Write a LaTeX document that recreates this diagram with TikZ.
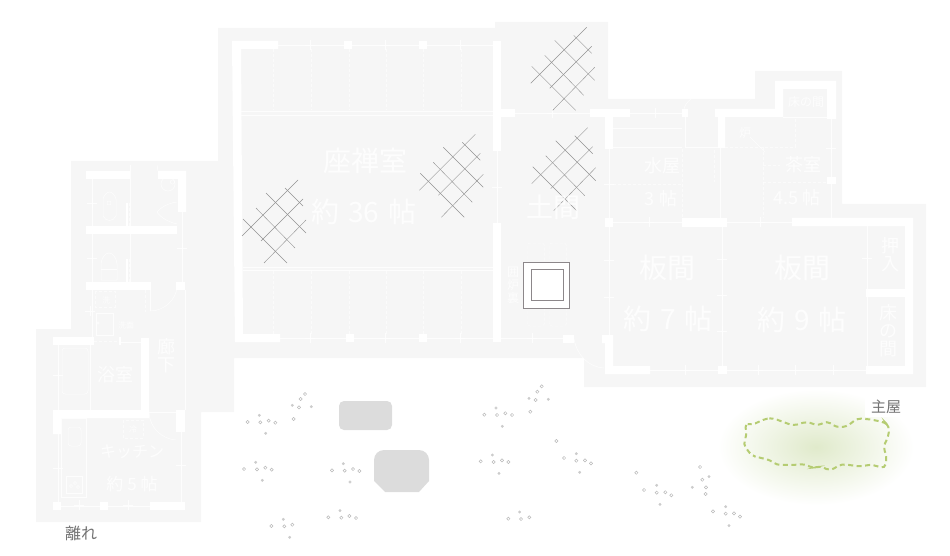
\documentclass[tikz,border=0pt]{standalone}
\usepackage{xcolor}
\usepackage{fontspec}
\setmainfont{Noto Sans CJK JP}
\usetikzlibrary{shadings}

\definecolor{planbg}{HTML}{F6F6F6}
\definecolor{rockgray}{HTML}{DCDCDC}
\definecolor{mossgreen}{HTML}{B5CC72}
\definecolor{mossglow}{HTML}{E0EACB}
\definecolor{irorigray}{HTML}{8C878A}

\tikzset{
    wall/.style={fill=white, draw=none},
    thinline/.style={white, line width=0.5pt, opacity=0.8},
    dashline/.style={white, line width=0.5pt, densely dashed, opacity=0.6},
    roomlabel/.style={text=white, text opacity=0.8, inner sep=0pt, align=center},
    lattice/.style={gray!85, line width=0.4pt},
    pebble/.style={gray!55, line width=0.5pt, fill=white},
}

\begin{document}
\begin{tikzpicture}[x=1pt, y=-1pt]
    \useasboundingbox (0, 0) rectangle (950, 556);

    % moss glow
    \shade[inner color=mossglow, outer color=white] (816, 447) ellipse (98 and 58);

    % ground plan
    \fill[planbg] (218, 28) -- (495, 28) -- (495, 22) -- (608, 22) -- (608, 99) -- (755, 99)
        -- (755, 71) -- (842, 71) -- (842, 204) -- (926, 204) -- (926, 387) -- (584, 387)
        -- (584, 358) -- (234, 358) -- (234, 412) -- (201, 412) -- (201, 522) -- (36, 522)
        -- (36, 329) -- (71, 329) -- (71, 161) -- (218, 161) -- cycle;

    % main hall
    \fill[wall] (232, 41) -- (278, 41) -- (278, 49) -- (241, 49) -- (243, 334) -- (280, 334)
        -- (280, 342) -- (235, 342) -- cycle;
    \fill[wall] (493, 41) rectangle (501, 151);
    \fill[wall] (493, 223) rectangle (501, 342);
    \foreach \sx/\sy in {344/41, 419/41, 346/334, 419/334}
        \fill[wall] (\sx, \sy) rectangle +(8, 8);
    \fill[wall] (501, 109) rectangle (515, 117);
    \draw[thinline] (278, 45) -- (493, 45);
    \draw[thinline] (280, 338) -- (493, 338);
    \draw[thinline] (241, 111) -- (493, 111);
    \draw[thinline] (241, 115) -- (501, 115);
    \draw[thinline] (243, 267) -- (493, 267);
    \draw[thinline] (243, 270) -- (493, 270);
    \draw[thinline] (497, 151) -- (497, 223);
    \foreach \dx in {273, 311, 349, 386, 423, 461} {
        \draw[dashline] (\dx, 49) -- (\dx, 110);
        \draw[dashline] (\dx, 271) -- (\dx, 334);
    }
    \foreach \tx/\ty in {310/45, 385/45, 460/45, 310/338, 385/338, 460/338, 497/187, 552/113, 655/113,
        532/338, 609/184, 649/222, 760/222, 609/260, 609/297, 722/259, 722/295, 722/331, 685/370,
        758/370, 795/370, 833/370, 867/258, 831/148, 79/505, 128/505, 92/203, 92/258, 90/311,
        58/375, 58/468, 181/465, 182/248}
        \draw[thinline] (\tx - 5, \ty) -- (\tx + 5, \ty) (\tx, \ty - 5) -- (\tx, \ty + 5);

    % doma and east rooms
    \fill[wall] (590, 109) rectangle (630, 117);
    \fill[wall] (605, 117) rectangle (613, 149);
    \fill[wall] (682, 109) rectangle (688, 117);
    \fill[wall] (715, 109) -- (775, 109) -- (775, 81) -- (836, 81) -- (836, 119) -- (827, 119)
        -- (827, 89) -- (783, 89) -- (783, 117) -- (725, 117) -- (725, 148) -- (718, 148) -- (718, 117)
        -- (715, 117) -- cycle;
    \fill[wall] (827, 177) rectangle (836, 184);
    \fill[wall] (605, 218) rectangle (613, 227);
    \fill[wall] (682, 218) rectangle (727, 227);
    \fill[wall] (792, 218) -- (913, 218) -- (913, 374) -- (866, 374) -- (866, 366) -- (905, 366)
        -- (905, 226) -- (792, 226) -- cycle;
    \fill[wall] (866, 289) rectangle (905, 297);
    \fill[wall] (602, 335) -- (613, 335) -- (613, 366) -- (650, 366) -- (650, 374) -- (605, 374)
        -- (605, 343) -- (602, 343) -- cycle;
    \fill[wall] (718, 366) rectangle (727, 374);
    \fill[wall] (563, 335) rectangle (574, 343);
    \draw[thinline] (515, 113) -- (590, 113);
    \draw[thinline] (630, 113) -- (682, 113);
    \draw[thinline] (501, 338) -- (563, 338);
    \draw[thinline] (609, 149) -- (609, 218);
    \draw[thinline] (609, 227) -- (609, 335);
    \draw[thinline] (722, 227) -- (722, 366);
    \draw[thinline] (720, 148) -- (720, 218);
    \draw[thinline] (867, 226) -- (867, 366);
    \draw[thinline] (831, 119) -- (831, 218);
    \draw[thinline] (613, 222) -- (682, 222);
    \draw[thinline] (727, 222) -- (792, 222);
    \draw[thinline] (650, 370) -- (718, 370);
    \draw[thinline] (727, 370) -- (866, 370);
    \draw[thinline] (613, 128) -- (682, 128);
    \draw[thinline] (613, 147) -- (682, 147);
    \draw[thinline] (685, 117) -- (685, 147) -- (720, 147);
    \draw[thinline] (684, 109) .. controls (685, 105) and (687, 102) .. (691, 99);
    \draw[thinline] (574, 339) .. controls (577, 355) and (588, 367) .. (604, 368);
    \draw[dashline] (613, 184) -- (682, 184);
    \draw[dashline] (682, 149) -- (682, 218);
    \draw[dashline] (714, 150) -- (714, 182);
    \draw[dashline] (725, 147) -- (795, 147) -- (795, 117);
    \draw[dashline] (763, 147) -- (763, 218);
    \draw[dashline] (763, 182) -- (827, 182);
    \draw[dashline] (763, 165) -- (780, 165);
    \draw[thinline] (783, 117) -- (827, 117);
    \draw[thinline] (750, 137) -- (765, 152);

    % annexe
    \fill[wall] (86, 171) rectangle (130, 179);
    \fill[wall] (158, 171) -- (186, 171) -- (186, 212) -- (178, 212) -- (178, 179) -- (158, 179) -- cycle;
    \fill[wall] (86, 226) rectangle (177, 234);
    \fill[wall] (86, 282) rectangle (151, 290);
    \fill[wall] (176, 282) rectangle (185, 290);
    \fill[wall] (53, 337) rectangle (94, 345);
    \fill[wall] (141, 338) rectangle (149, 410);
    \fill[wall] (53, 410) -- (149, 410) -- (149, 418) -- (61, 418) -- (61, 434) -- (53, 434) -- cycle;
    \fill[wall] (176, 410) rectangle (185, 432);
    \fill[wall] (53, 502) rectangle (61, 510);
    \fill[wall] (100, 502) rectangle (108, 510);
    \fill[wall] (150, 502) rectangle (185, 510);
    \fill[wall] (125.5, 203) rectangle (128, 226);
    \fill[wall] (125.5, 259) rectangle (128, 282);
    \fill[wall] (119, 337) rectangle (121, 345);
    \draw[thinline] (92, 179) -- (92, 226);
    \draw[thinline] (92, 234) -- (92, 282);
    \draw[thinline] (130, 165) -- (130, 282);
    \draw[thinline] (182, 212) -- (182, 282);
    \draw[thinline] (185, 290) -- (185, 410);
    \draw[thinline] (181, 432) -- (181, 502);
    \draw[thinline] (92, 290) -- (92, 337);
    \draw[thinline] (150, 290) -- (150, 311);
    \draw[thinline] (150, 311) .. controls (164, 311) and (176, 300) .. (177, 287);
    \draw[thinline] (121, 342) -- (141, 342);
    \draw[thinline] (58, 345) -- (58, 410);
    \draw[thinline] (90, 345) -- (90, 410);
    \draw[thinline] (58, 434) -- (58, 502);
    \draw[thinline] (61, 506) -- (100, 506);
    \draw[thinline] (108, 506) -- (150, 506);
    \draw[thinline] (149, 412) -- (176, 412);
    \draw[thinline] (149, 413) .. controls (150, 428) and (162, 439) .. (176, 440);
    \draw[thinline] (157, 165) -- (158, 171);
    \draw[dashline] (129, 203) -- (129, 226);
    \draw[dashline] (129, 259) -- (129, 282);
    \draw[dashline] (145, 290) -- (145, 312);
    \draw[dashline] (94, 341) -- (119, 341);
    \draw[dashline] (95, 291) rectangle (115, 307);
    \draw[dashline] (123, 420) rectangle (143, 438);
    \draw[thinline] (96, 313) rectangle (113, 335);
    \draw[thinline, rounded corners=3pt] (62, 348) rectangle (88, 394);
    \draw[thinline] (61, 418) rectangle (86, 497);
    \draw[thinline, rounded corners=3pt] (68, 427) rectangle (81, 446);
    \draw[thinline] (66, 476) rectangle (82, 493);
    \draw[thinline] (103, 216) -- (103, 199) .. controls (104, 195) and (107, 192) .. (109.5, 192)
        .. controls (112, 192) and (115, 195) .. (116, 199) -- (116, 216) .. controls (113, 222) and (106, 222) .. (103, 216);
    \draw[thinline] (101, 280) -- (101, 264) .. controls (102, 256) and (106, 253) .. (109, 253)
        .. controls (112, 253) and (116, 256) .. (117, 264) -- (117, 280) -- cycle;
    \draw[thinline] (101, 269) -- (117, 269);
    \draw[thinline] (168, 184) circle (7);
    \draw[thinline] (172.5, 182) circle (2.2);
    \draw[thinline] (177, 202) .. controls (168, 203) and (160, 208) .. (157, 212)
        .. controls (160, 217) and (168, 222) .. (177, 224);
    \draw[thinline] (109, 203) circle (2);
    \draw[thinline] (98, 323) circle (1.2);
    \foreach \cx/\cy in {71/486, 75/483, 78/487}
        \draw[thinline] (\cx, \cy) circle (1.6);

    % rocks
    \fill[rockgray, rounded corners=5pt] (339, 401) rectangle (392, 430);
    \fill[rockgray] (374, 481) -- (374, 460) arc[start angle=180, end angle=270, radius=10]
        -- (419, 450) arc[start angle=270, end angle=360, radius=10] -- (429, 481)
        -- (419, 492) -- (385, 492) -- cycle;

    % irori
    \foreach \fx/\fy in {527/243, 549/243}
        \draw[dashline, rounded corners=3pt] (\fx, \fy) rectangle +(17.5, 83);
    \draw[irorigray, fill=white, line width=0.7pt] (523, 262) rectangle (569, 308);
    \draw[irorigray, fill=white, line width=0.7pt] (531, 269) rectangle (563, 300);

    % lattices
    \foreach \ox/\oy in {530.7/27.3, 531.7/127.7, 419.3/134.3, 242/180} {
        \begin{scope}[shift={(\ox, \oy)}]
            \draw[lattice] (0, 56) -- (56, 0);
            \draw[lattice] (19, 61) -- (61, 19);
            \draw[lattice] (22, 83) -- (64, 40);
            \draw[lattice] (1, 39) -- (45, 83);
            \draw[lattice] (14, 28) -- (53, 68);
            \draw[lattice] (24, 13) -- (64, 53);
            \draw[lattice] (43, 8) -- (61, 26);
        \end{scope}
    }

    % pebbles
    \foreach \px/\py in {225/42, 212/57, 207/82, 191/117, 53/126, 91/127, 116/122, 136/128,
        42/267, 81/268, 106/263, 125/269, 306/271, 344/272, 369/267, 388/273,
        124/438, 163/439, 187/434, 295/412, 334/413, 358/408, 378/414,
        935/19, 922/35, 917/60, 901/95, 763/104, 801/105, 826/100, 846/105,
        979/183, 1002/234, 1039/242, 1065/241, 1083/250, 752/244, 791/246, 816/241, 835/246,
        835/416, 873/417, 898/412}
        \draw[pebble] (230 + \px/3, 380 + \py/3) circle (1.6);
    \foreach \px/\py in {187/76, 244/80, 88/106, 107/160, 77/247, 97/301, 340/251, 360/306,
        160/418, 179/472, 330/392, 897/55, 955/58, 798/84, 817/139, 1039/221, 1049/277,
        787/225, 807/280, 869/396}
        \draw[pebble, gray!40] (230 + \px/3, 380 + \py/3) circle (1.2);
    \foreach \px/\py in {49/263, 72/315, 110/323, 136/322, 154/331, 240/246, 247/284, 258/307,
        257/327, 279/379, 317/386, 342/385, 360/395}
        \draw[pebble] (620 + \px/3, 385 + \py/3) circle (1.6);
    \foreach \px/\py in {110/301, 120/358, 267/275, 217/307, 317/365, 327/422}
        \draw[pebble, gray!40] (620 + \px/3, 385 + \py/3) circle (1.2);

    % moss edge
    \begin{scope}[shift={(620, 385)}, x=0.3333pt, y=-0.3333pt]
        \draw[mossgreen, line width=2pt, dash pattern=on 5pt off 3.5pt, rounded corners=4pt]
            (375, 115) -- (395, 120) -- (440, 100) -- (460, 100) -- (520, 122) -- (560, 110)
            -- (595, 122) -- (620, 108) -- (650, 127) -- (680, 125) -- (712, 100) -- (750, 103)
            -- (795, 112) -- (808, 125) -- (805, 155) -- (790, 185) -- (800, 215) -- (795, 250)
            -- (750, 238) -- (725, 245) -- (665, 237) -- (630, 257) -- (600, 243) -- (578, 250)
            -- (555, 237) -- (520, 240) -- (470, 240) -- (450, 225) -- (415, 217) -- (395, 212)
            -- (370, 178) -- (380, 150) -- cycle;
    \end{scope}

    % labels
    \node[roomlabel, font=\fontsize{28}{28}\selectfont] (zazen) at (365, 161) {座禅室};
    \node[roomlabel, font=\fontsize{28}{28}\selectfont] (zazensize) at (364, 212) {約\hspace{3pt} 36\hspace{3pt} 帖};
    \node[roomlabel, font=\fontsize{27}{27}\selectfont] (doma) at (553, 207) {土間};
    \node[roomlabel, font=\fontsize{12}{13}\selectfont] (irori) at (513, 285) {囲\\炉\\裏};
    \node[roomlabel, font=\fontsize{18}{18}\selectfont] (mizuya) at (662, 166) {水屋};
    \node[roomlabel, font=\fontsize{18}{18}\selectfont] (mizuyasize) at (661, 199) {3 帖};
    \node[roomlabel, font=\fontsize{18}{18}\selectfont] (chashitsu) at (803, 165) {茶室};
    \node[roomlabel, font=\fontsize{18}{18}\selectfont] (chashitsusize) at (797, 198) {4.5 帖};
    \node[roomlabel, font=\fontsize{12}{12}\selectfont] (tokonoma) at (806, 102) {床の間};
    \node[roomlabel, font=\fontsize{12}{12}\selectfont] (ro) at (745, 133) {炉};
    \node[roomlabel, font=\fontsize{28}{28}\selectfont] (itama) at (667, 268) {板間};
    \node[roomlabel, font=\fontsize{28}{28}\selectfont] (itamasize) at (668, 319) {約\hspace{2pt} 7\hspace{2pt} 帖};
    \node[roomlabel, font=\fontsize{28}{28}\selectfont] (itamatwo) at (802, 268) {板間};
    \node[roomlabel, font=\fontsize{28}{28}\selectfont] (itamatwosize) at (802, 320) {約\hspace{2pt} 9\hspace{2pt} 帖};
    \node[roomlabel, font=\fontsize{18}{18}\selectfont] (oshiire) at (890, 255) {押\\入};
    \node[roomlabel, font=\fontsize{18}{18}\selectfont] (tokotwo) at (888, 331) {床\\の\\間};
    \node[roomlabel, font=\fontsize{18}{18}\selectfont] (roka) at (166, 356) {廊\\下};
    \node[roomlabel, font=\fontsize{18}{18}\selectfont] (yokushitsu) at (115, 375) {浴室};
    \node[roomlabel, font=\fontsize{16}{16}\selectfont] (kitchen) at (132, 452) {キッチン};
    \node[roomlabel, font=\fontsize{17}{17}\selectfont] (kitchensize) at (132, 484) {約 5 帖};
    \node[roomlabel, font=\fontsize{8}{8}\selectfont] (senmen) at (126, 325) {洗面};
    \node[roomlabel, font=\fontsize{8}{8}\selectfont] (sen) at (106, 300) {洗};
    \node[roomlabel, font=\fontsize{8}{8}\selectfont] (rei) at (133, 429) {冷};
    \node[inner sep=0pt, text=gray!90!black, font=\fontsize{16}{16}\selectfont] (hanare) at (81, 533) {離れ};
    \node[inner xsep=6pt, inner ysep=3pt, fill=white, text=gray!90!black, font=\fontsize{15}{15}\selectfont] (omoya) at (886, 407) {主屋};
\end{tikzpicture}
\end{document}
